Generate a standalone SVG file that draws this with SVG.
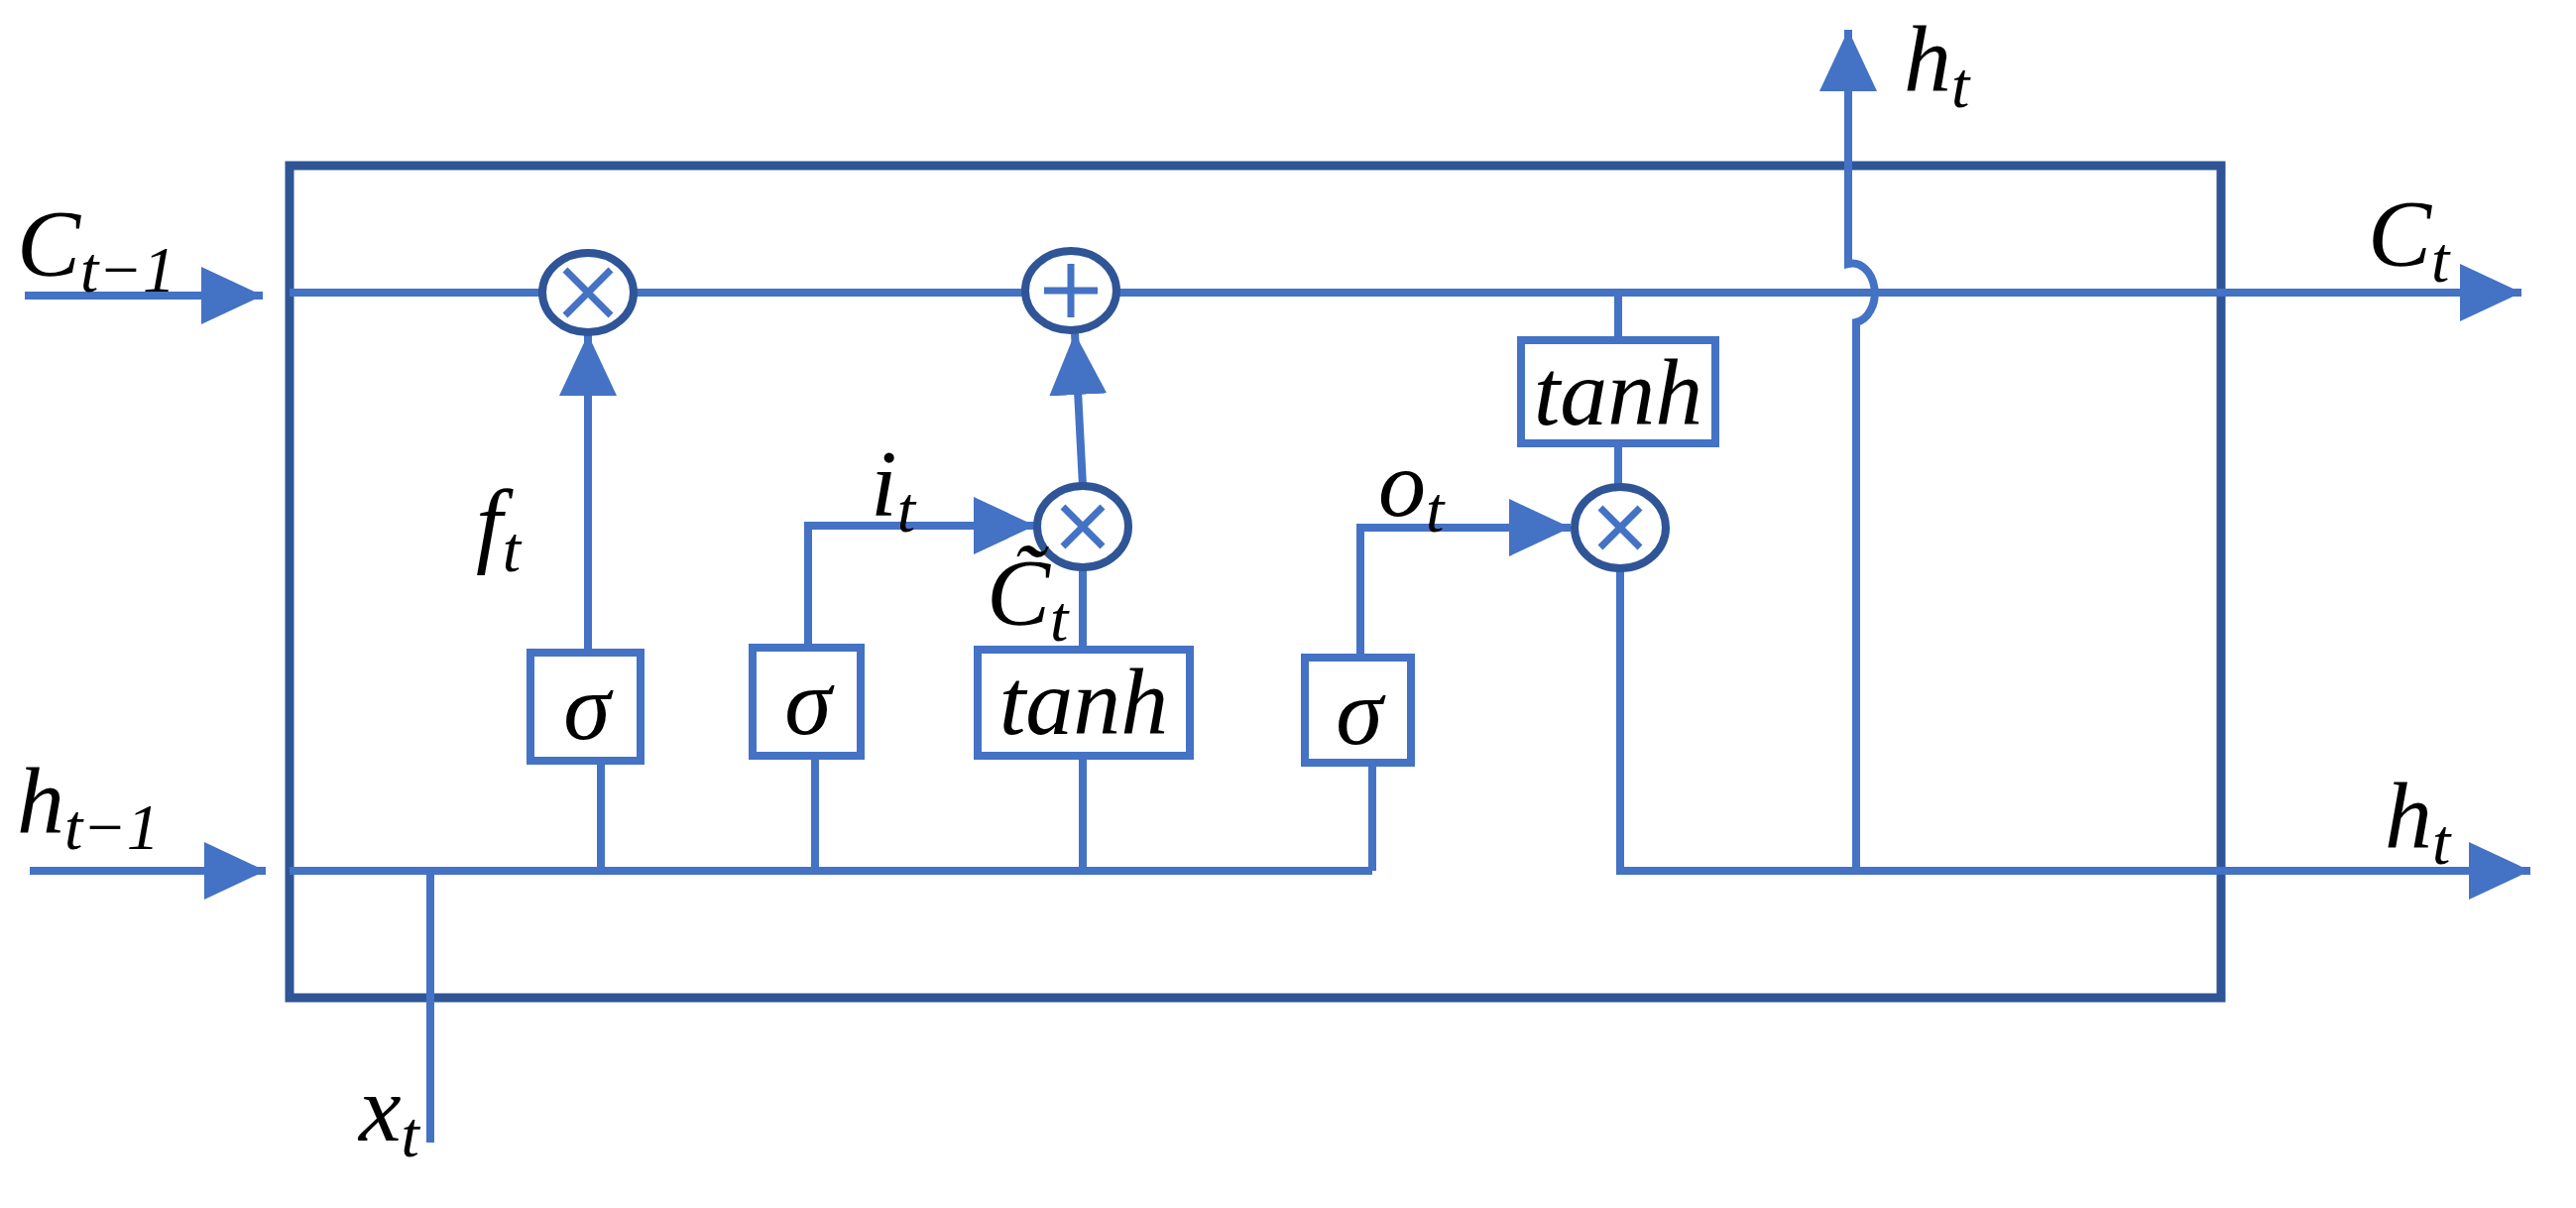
<svg xmlns="http://www.w3.org/2000/svg" width="2598" height="1218" viewBox="0 0 2598 1218">
<style>
.ln{stroke:#4472C4;stroke-width:8;fill:none}
.bx{stroke:#4472C4;stroke-width:8;fill:#fff}
.op{stroke:#2F5597;stroke-width:8;fill:#fff}
.sym{stroke:#4472C4;stroke-width:7;fill:none}
.t{font-family:"Liberation Serif",serif;font-style:italic;font-size:96px;fill:#000}
.s{font-size:66px}
</style>
<defs>
<marker id="a" viewBox="0 0 62 58" refX="62" refY="29" markerWidth="62" markerHeight="58" markerUnits="userSpaceOnUse" orient="auto">
<path d="M0,0 L62,29 L0,58 Z" fill="#4472C4"/>
</marker>
</defs>
<rect id="cell" x="292" y="167" width="1948" height="839" fill="none" stroke="#2F5597" stroke-width="9"/>
<g id="connectors">
<line class="ln" x1="25" y1="298" x2="265" y2="298" marker-end="url(#a)"/>
<line class="ln" x1="30" y1="878" x2="268" y2="878" marker-end="url(#a)"/>
<line class="ln" x1="292" y1="295" x2="2543" y2="295" marker-end="url(#a)"/>
<line class="ln" x1="292" y1="878" x2="1384" y2="878"/>
<line class="ln" x1="434" y1="878" x2="434" y2="1152"/>
<line class="ln" x1="606" y1="878" x2="606" y2="767"/>
<line class="ln" x1="822" y1="878" x2="822" y2="762"/>
<line class="ln" x1="1092" y1="878" x2="1092" y2="762"/>
<line class="ln" x1="1384" y1="878" x2="1384" y2="769"/>
<line class="ln" x1="593" y1="658" x2="593" y2="337" marker-end="url(#a)"/>
<polyline class="ln" points="815,653 815,530 1044,530" marker-end="url(#a)"/>
<line class="ln" x1="1092" y1="655" x2="1092" y2="572"/>
<line class="ln" x1="1092" y1="490" x2="1084" y2="336" marker-end="url(#a)"/>
<polyline class="ln" points="1372,663 1372,532 1584,532" marker-end="url(#a)"/>
<line class="ln" x1="1632" y1="295" x2="1632" y2="343"/>
<line class="ln" x1="1632" y1="447" x2="1632" y2="490"/>
<polyline class="ln" points="1634,574 1634,878 2552,878" marker-end="url(#a)"/>
<path class="ln" d="M1872,878 L1872,325 A22,29 0 0 0 1864,266 L1864,30" marker-end="url(#a)"/>
</g>
<g id="mul1"><ellipse class="op" cx="593" cy="295" rx="46" ry="40"/><path class="sym" d="M570,272 L616,318 M616,272 L570,318"/></g>
<g id="add"><ellipse class="op" cx="1080" cy="293" rx="46" ry="40"/><path class="sym" d="M1080,266 V320 M1053,293 H1107"/></g>
<g id="mul2"><ellipse class="op" cx="1092" cy="531" rx="46" ry="41"/><path class="sym" d="M1072,511 L1112,551 M1112,511 L1072,551"/></g>
<g id="mul3"><ellipse class="op" cx="1634" cy="532" rx="46" ry="41"/><path class="sym" d="M1614,512 L1654,552 M1654,512 L1614,552"/></g>
<g id="sig1"><rect class="bx" x="535" y="658" width="111" height="109"/><text class="t" x="592" y="745" text-anchor="middle">σ</text></g>
<g id="sig2"><rect class="bx" x="759" y="653" width="109" height="109"/><text class="t" x="815" y="740" text-anchor="middle">σ</text></g>
<g id="tanh1"><rect class="bx" x="986" y="655" width="214" height="107"/><text class="t" x="1093" y="740" text-anchor="middle">tanh</text></g>
<g id="sig3"><rect class="bx" x="1316" y="663" width="107" height="106"/><text class="t" x="1371" y="750" text-anchor="middle">σ</text></g>
<g id="tanh2"><rect class="bx" x="1534" y="343" width="196" height="104"/><text class="t" x="1632" y="428" text-anchor="middle">tanh</text></g>
<g id="labels">
<text class="t" x="17" y="278">C<tspan class="s" dy="16">t−1</tspan></text>
<text class="t" x="17" y="840">h<tspan class="s" dy="16">t−1</tspan></text>
<text class="t" x="2388" y="268">C<tspan class="s" dy="16">t</tspan></text>
<text class="t" x="2405" y="855">h<tspan class="s" dy="16">t</tspan></text>
<text class="t" x="1920" y="92">h<tspan class="s" dy="16">t</tspan></text>
<text class="t" x="362" y="1150">x<tspan class="s" dy="16">t</tspan></text>
<text class="t" x="480" y="560">f<tspan class="s" dy="16">t</tspan></text>
<text class="t" x="878" y="520">i<tspan class="s" dy="16">t</tspan></text>
<text class="t" x="1390" y="520">o<tspan class="s" dy="16">t</tspan></text>
<text class="t" x="995" y="630">C&#771;<tspan class="s" dy="16">t</tspan></text>
</g>
</svg>
